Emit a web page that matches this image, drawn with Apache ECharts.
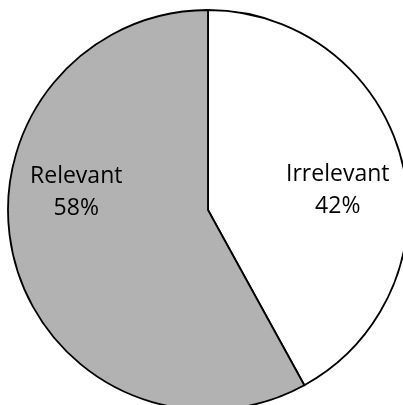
<!DOCTYPE html>
<html>
<head>
<meta charset="utf-8">
<script src="https://cdn.jsdelivr.net/npm/echarts@6/dist/echarts.min.js"></script>
<style>
  html, body { margin: 0; padding: 0; background: #fff; }
  #chart { width: 403px; height: 405px; }
</style>
</head>
<body>
<div id="chart"></div>
<script>
  // slices go clockwise from 12 o'clock
  var categories = ['Irrelevant', 'Relevant']
  var shares = [42, 58]
  var sliceColors = ['#ffffff', '#b2b2b2']
  // nudge each label away from its slice centroid, like the original
  var labelOffsets = [[30, 6], [-32, -43]]

  var chart = echarts.init(document.getElementById('chart'), null, { renderer: 'canvas' })

  var pieData = categories.map(function (name, i) {
    return {
      name: name,
      value: shares[i],
      itemStyle: { color: sliceColors[i] },
      label: { offset: labelOffsets[i] }
    }
  })

  chart.setOption({
    animation: false,
    backgroundColor: '#ffffff',
    series: [
      {
        type: 'pie',
        center: [208, 210],
        radius: 200,
        startAngle: 90,
        clockwise: true,
        silent: true,
        itemStyle: {
          borderColor: '#000000',
          borderWidth: 1.8
        },
        label: {
          show: true,
          position: 'inside',
          formatter: '{b}\n{c}%',
          color: '#000000',
          fontFamily: 'Open Sans',
          fontSize: 23,
          lineHeight: 32,
          align: 'center'
        },
        labelLine: { show: false },
        data: pieData
      }
    ]
  })
</script>
</body>
</html>
